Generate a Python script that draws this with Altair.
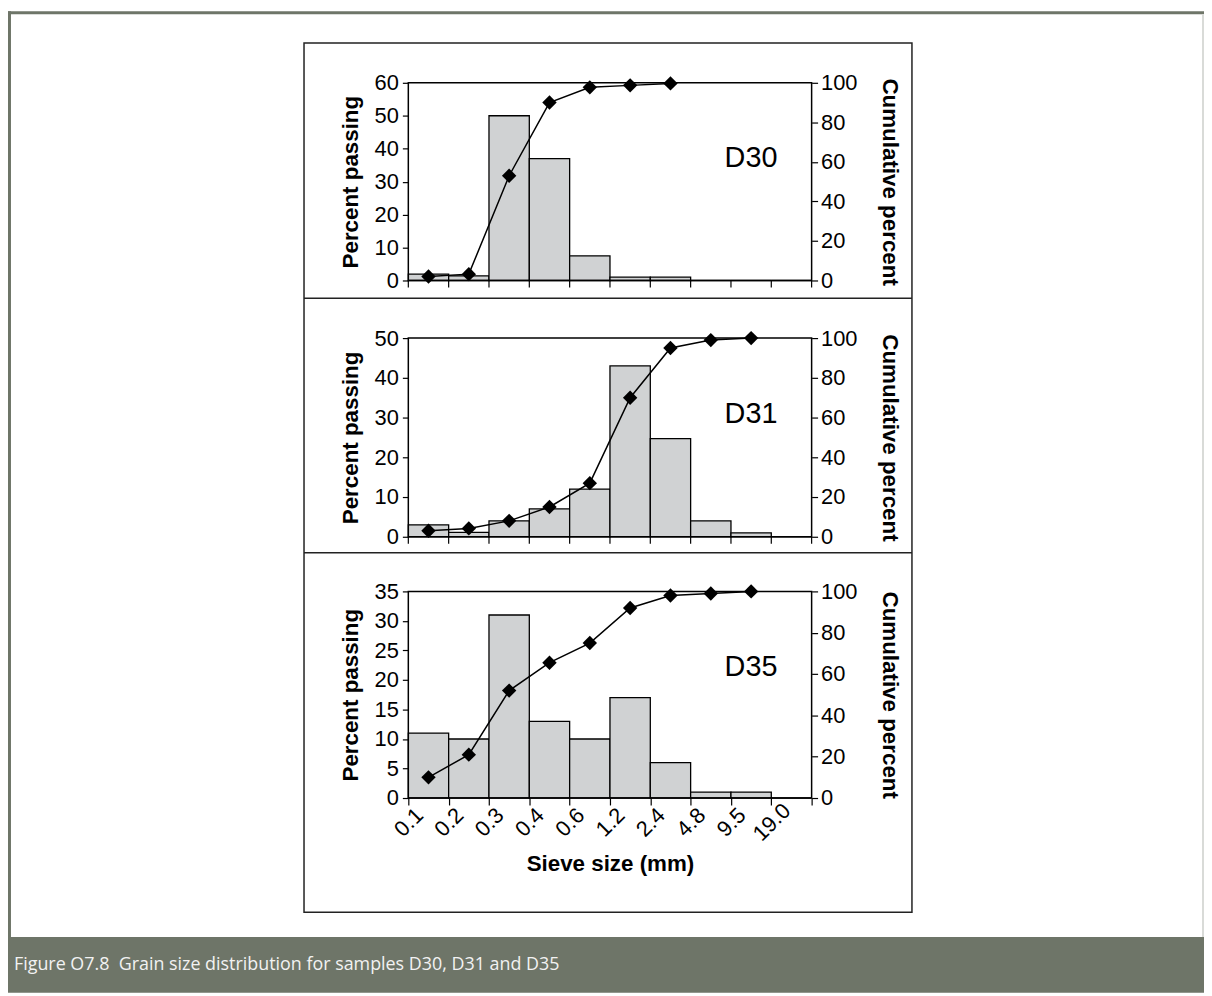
import json
import pandas as pd
import altair as alt

# ---------------- data ----------------
sieve_labels = ["0.1", "0.2", "0.3", "0.4", "0.6", "1.2", "2.4", "4.8", "9.5", "19.0"]
sample_names = ["D30", "D31", "D35"]

d30_pct = [1.9, 1.4, 50, 37, 7.5, 1, 1, 0, 0, 0]
d30_cum = [2, 3.2, 53, 90, 97.7, 98.7, 99.7]

d31_pct = [3, 1.1, 4, 7, 12, 43, 24.7, 4, 1, 0]
d31_cum = [3, 4.2, 8, 15, 27, 70, 95, 99, 100]

d35_pct = [11, 10, 31, 13, 10, 17, 6, 1, 1, 0]
d35_cum = [10, 21, 52, 65.5, 75, 92, 98, 99, 100]

pct_max = [60, 50, 35]
pct_step = [10, 10, 5]
cum_ticks = [0, 20, 40, 60, 80, 100]

caption = "Figure O7.8\u00a0 Grain size distribution for samples D30, D31 and D35"
x_title = "Sieve size (mm)"
left_title = "Percent passing"
right_title = "Cumulative percent"

# ---------------- layout (pixels, relative to plot origin) ----------------
W, H = 406, 720
panel_px = [(0, 199), (257, 457), (512, 720)]   # (top, bottom) of each plot area
FONT = "Liberation Sans"
LBL = 22
TTL = 22.5
BAR_FILL = "#d0d2d3"
FRAME = "#6e7568"

one = pd.DataFrame({"k": [0]})
xscale = alt.Scale(domain=[0, 10], nice=False, zero=False)

series = [(d30_pct, d30_cum), (d31_pct, d31_cum), (d35_pct, d35_cum)]

layers = []

# page frame and caption band
layers.append(alt.Chart(one).mark_rect(color=FRAME).encode(
    x=alt.value(-403), x2=alt.value(-400), y=alt.value(-72), y2=alt.value(860)))
layers.append(alt.Chart(one).mark_rect(color=FRAME).encode(
    x=alt.value(-403), x2=alt.value(801), y=alt.value(-72), y2=alt.value(-69)))
layers.append(alt.Chart(one).mark_rect(color="#d9dbd8").encode(
    x=alt.value(799), x2=alt.value(801), y=alt.value(-69), y2=alt.value(860)))
layers.append(alt.Chart(one).mark_rect(color=FRAME).encode(
    x=alt.value(-403), x2=alt.value(801), y=alt.value(860), y2=alt.value(916)))
layers.append(alt.Chart(one).mark_text(
    text=caption, align="left", baseline="middle", font="Open Sans", fontSize=18,
    color="#f2f2f2").encode(x=alt.value(-397), y=alt.value(888)))

# outer chart box and dividers
layers.append(alt.Chart(one).mark_rect(
    fill="white", fillOpacity=0, stroke="#222222", strokeWidth=1.5).encode(
    x=alt.value(-105), x2=alt.value(507), y=alt.value(-40), y2=alt.value(835)))
for ydiv in (217, 473):
    layers.append(alt.Chart(one).mark_rule(color="#222222", strokeWidth=1.5).encode(
        x=alt.value(-105), x2=alt.value(507), y=alt.value(ydiv)))

for p, (pct, cum) in enumerate(series):
    top, bottom = panel_px[p]
    last = p == 2
    df_b = pd.DataFrame({"lo": list(range(10)), "pct": pct})
    df_b["hi"] = df_b["lo"] + 1
    df_b["base"] = 0
    df_c = pd.DataFrame({"i": list(range(len(cum))), "cum": cum})

    if last:
        xaxis = alt.Axis(values=list(range(11)),
                         labelExpr=json.dumps(sieve_labels) + "[datum.value] || ''",
                         labelAngle=-45, labelAlign="center", labelBaseline="middle",
                         labelFlush=False, labelOverlap=False, labelPadding=17,
                         labelFontSize=LBL, labelFont=FONT, labelColor="black",
                         tickSize=7, tickColor="black", tickWidth=1.2,
                         domain=False, grid=False,
                         title=x_title, titleFont=FONT, titleFontSize=TTL,
                         titleFontWeight="bold", titleColor="black", titlePadding=8)
    else:
        xaxis = None

    left_axis = alt.Axis(orient="left",
                         values=list(range(0, pct_max[p] + 1, pct_step[p])),
                         format="d", tickSize=6, tickColor="black", tickWidth=1.2,
                         domain=False, grid=False, labelOverlap=False,
                         labelFontSize=LBL, labelFont=FONT, labelColor="black",
                         labelPadding=4,
                         title=left_title, titleFont=FONT, titleFontSize=TTL,
                         titleFontWeight="bold", titleColor="black", titlePadding=12)
    right_axis = alt.Axis(orient="right", values=cum_ticks, format="d",
                          tickSize=6, tickColor="black", tickWidth=1.2,
                          domain=False, grid=False, labelOverlap=False,
                          labelFontSize=LBL, labelFont=FONT, labelColor="black",
                          labelPadding=3,
                          title=right_title, titleFont=FONT, titleFontSize=TTL,
                          titleFontWeight="bold", titleColor="black", titlePadding=21)

    yscale_b = alt.Scale(domain=[0, pct_max[p]], range=[bottom, top], nice=False, zero=True)
    yscale_c = alt.Scale(domain=[0, 100], range=[bottom, top], nice=False, zero=True)

    bars = alt.Chart(df_b).mark_bar(fill=BAR_FILL, stroke="black", strokeWidth=1.3).encode(
        x=alt.X("lo:Q", scale=xscale, axis=xaxis),
        x2="hi:Q",
        y=alt.Y("pct:Q", scale=yscale_b, axis=left_axis),
        y2="base:Q")
    line = alt.Chart(df_c).transform_calculate(mid="datum.i + 0.5").mark_line(
        color="black", strokeWidth=1.5).encode(
        x=alt.X("mid:Q", scale=xscale, axis=None),
        y=alt.Y("cum:Q", scale=yscale_c, axis=right_axis))
    pts = alt.Chart(df_c).transform_calculate(mid="datum.i + 0.5").mark_point(
        shape="diamond", filled=True, color="black", opacity=1, size=210).encode(
        x=alt.X("mid:Q", scale=xscale, axis=None),
        y=alt.Y("cum:Q", scale=yscale_c, axis=None))

    frame = alt.Chart(one).mark_rect(fill="white", fillOpacity=0, stroke="black",
                                     strokeWidth=1.5).encode(
        x=alt.value(0), x2=alt.value(W), y=alt.value(top), y2=alt.value(bottom))

    label = alt.Chart(one).mark_text(text=sample_names[p], font=FONT, fontSize=29,
                                     align="center", baseline="middle",
                                     color="black").encode(
        x=alt.value(345), y=alt.value(top + 76))

    layers += [bars, line, pts, frame, label]

    if not last:
        df_t = pd.DataFrame({"t": list(range(11))})
        ticks = alt.Chart(df_t).mark_rule(color="black", strokeWidth=1.2).encode(
            x=alt.X("t:Q", scale=xscale, axis=None),
            y=alt.value(bottom), y2=alt.value(bottom + 7))
        layers.append(ticks)

chart = alt.layer(*layers).resolve_scale(y="independent").resolve_axis(
    x="independent").properties(
    width=W, height=H, padding=0, background="white"
).configure_view(strokeWidth=0)

chart.save("out.html", embed_options={"renderer": "svg", "actions": False})
